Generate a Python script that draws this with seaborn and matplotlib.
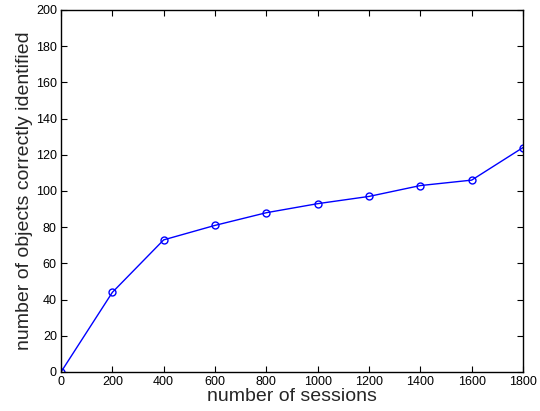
import matplotlib
matplotlib.use("Agg")
import matplotlib.pyplot as plt
import seaborn as sns
import pandas as pd

sessions = [0, 200, 400, 600, 800, 1000, 1200, 1400, 1600, 1800]
identified = [0, 44, 73, 81, 88, 93, 97, 103, 106, 124]
xticks = [0, 200, 400, 600, 800, 1000, 1200, 1400, 1600, 1800]
yticks = [0, 20, 40, 60, 80, 100, 120, 140, 160, 180, 200]

sns.set_style("ticks")
plt.rcParams['font.family'] = ['Liberation Sans', 'DejaVu Sans']

df = pd.DataFrame({"sessions": sessions, "identified": identified})

fig = plt.figure(figsize=(5.4, 4.11), dpi=100)
ax = fig.add_axes([0.113, 0.0949, 0.8555, 0.8808])
sns.lineplot(data=df, x="sessions", y="identified", ax=ax, color="#0000ff",
             linewidth=1.0, marker="o", markersize=5, markerfacecolor="none",
             markeredgecolor="#0000ff", markeredgewidth=1.0)
ax.set_xlim(0, 1800)
ax.set_ylim(0, 200)
ax.set_xticks(xticks)
ax.set_yticks(yticks)
ax.tick_params(direction="in", top=True, right=True, labelsize=9, length=4,
               width=0.8, colors="black", pad=3)
for s in ax.spines.values():
    s.set_visible(True)
    s.set_linewidth(1.0)
    s.set_color("black")
ax.set_xlabel("number of sessions", fontsize=14, labelpad=0)
ax.set_ylabel("number of objects correctly identified", fontsize=14, labelpad=2)
fig.savefig("out.png", dpi=100)
